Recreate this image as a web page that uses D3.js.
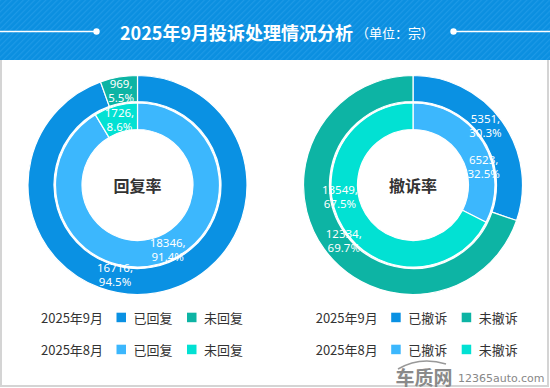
<!DOCTYPE html>
<html><head><meta charset="utf-8">
<script src="https://cdn.jsdelivr.net/npm/d3@7"></script>
<style>
html,body{margin:0;padding:0;background:#fff;}
svg{display:block;}
</style></head>
<body>
<svg id="chart" width="550" height="388"></svg>
<script>
// ---- data ----
const titleMain = "2025年9月投诉处理情况分析";
const titleUnit = "（单位：宗）";
const months = ["2025年9月", "2025年8月"];
const replyCategories = ["已回复", "未回复"];
const withdrawCategories = ["已撤诉", "未撤诉"];
const replySep = [16716, 969];      // 2025年9月
const replyAug = [18346, 1726];     // 2025年8月
const withdrawSep = [5351, 12334];  // 2025年9月
const withdrawAug = [6523, 13549];  // 2025年8月
const centerTitles = ["回复率", "撤诉率"];

// ---- styles / layout ----
const colSepDone = "#0a91e3", colSepNot = "#0db4a4";
const colAugDone = "#3cb7fd", colAugNot = "#02e1d3";
const W = 550, H = 388;
const svg = d3.select("#chart");
const cjk = "'Noto Sans CJK SC','Noto Sans',sans-serif";

// header
const defs = svg.append("defs");
const pat = defs.append("pattern").attr("id","stripes").attr("patternUnits","userSpaceOnUse")
  .attr("width",4).attr("height",4).attr("patternTransform","rotate(45)");
pat.append("rect").attr("width",4).attr("height",4).attr("fill","#0b8fe0");
pat.append("rect").attr("width",1.2).attr("height",4).attr("fill","#1d99e6");
svg.append("rect").attr("x",0).attr("y",0).attr("width",W).attr("height",60).attr("fill","url(#stripes)");

// body border
svg.append("path").attr("d",`M1,60 V386 H548 V60`).attr("fill","none").attr("stroke","#d4d4d4").attr("stroke-width",2);

const tY = 31.5;
svg.append("line").attr("x1",0).attr("x2",96.5).attr("y1",tY).attr("y2",tY).attr("stroke","#fff").attr("stroke-width",1.5);
svg.append("circle").attr("cx",96.5).attr("cy",tY).attr("r",3.2).attr("fill","#fff");
svg.append("line").attr("x1",453.5).attr("x2",W).attr("y1",tY).attr("y2",tY).attr("stroke","#fff").attr("stroke-width",1.5);
svg.append("circle").attr("cx",453.5).attr("cy",tY).attr("r",3.2).attr("fill","#fff");
const tt = svg.append("text").attr("x",277).attr("y",tY).attr("text-anchor","middle")
  .attr("dominant-baseline","central").attr("fill","#fff").style("font-family",cjk);
tt.append("tspan").attr("font-size",18).attr("font-weight","bold").text(titleMain);
tt.append("tspan").attr("font-size",13).attr("dx",3).text(titleUnit);

// donuts
const pie = d3.pie().sort(null).value(d => d).startAngle(0).endAngle(2*Math.PI);
const rings = {outer:[83.5,109.5], inner:[55.5,82]};

function donut(cx, cy, outerData, innerData, outerCols, innerCols, centerText, labelAdj) {
  const g = svg.append("g").attr("transform",`translate(${cx},${cy})`);
  const sets = [
    {data: outerData, cols: outerCols, r: rings.outer, adj: labelAdj.outer},
    {data: innerData, cols: innerCols, r: rings.inner, adj: labelAdj.inner}
  ];
  const arcLayer = g.append("g"), labelLayer = g.append("g");
  sets.forEach(s => {
    const arc = d3.arc().innerRadius(s.r[0]).outerRadius(s.r[1]);
    const total = d3.sum(s.data);
    const arcs = pie(s.data);
    arcLayer.append("g").selectAll("path").data(arcs).join("path")
      .attr("d", arc).attr("fill", (d,i) => s.cols[i])
      .attr("stroke","#fff").attr("stroke-width",1.2);
    labelLayer.append("g").selectAll("text").data(arcs).join("text")
      .each(function(d,i){
        const a = (d.startAngle + d.endAngle)/2 + s.adj[i][0]*Math.PI/180;
        const rr = s.adj[i][1];
        const x = rr*Math.sin(a), y = -rr*Math.cos(a);
        const t = d3.select(this).attr("text-anchor","middle").attr("fill","#fff")
          .style("font-family","'Noto Sans',sans-serif").attr("font-size",11.5);
        t.append("tspan").attr("x",x).attr("y",y-7).attr("dominant-baseline","central").text(d.data + ",");
        t.append("tspan").attr("x",x).attr("y",y+7).attr("dominant-baseline","central").text((d.data/total*100).toFixed(1) + "%");
      });
  });
  g.append("text").attr("text-anchor","middle").attr("dominant-baseline","central")
    .attr("fill","#333").attr("font-size",16).attr("font-weight","bold")
    .style("font-family",cjk).text(centerText);
}

// label placement: [angle offset in degrees, radius]
donut(137.5, 185, replySep, replyAug, [colSepDone,colSepNot], [colAugDone,colAugNot], centerTitles[0],
  {outer:[[24,92],[0,96]], inner:[[-9.5,71.5],[0,67.5]]});
donut(413, 185, withdrawSep, withdrawAug, [colSepDone,colSepNot], [colAugDone,colAugNot], centerTitles[1],
  {outer:[[-4,94],[-3,88.5]], inner:[[17,73],[22.5,74]]});

// legends
function legend(x0, cats) {
  const rowsY = [317.5, 349.5];
  const cols = [[colSepDone,colSepNot],[colAugDone,colAugNot]];
  months.forEach((m, r) => {
    const y = rowsY[r];
    const g = svg.append("g").style("font-family",cjk).attr("font-size",13).attr("fill","#333");
    g.append("text").attr("x",x0).attr("y",y).attr("dominant-baseline","central").text(m);
    cats.forEach((c, k) => {
      const sx = x0 + 75.5 + k*70.5;
      g.append("rect").attr("x",sx).attr("y",y-4.8).attr("width",9.5).attr("height",9.5).attr("fill",cols[r][k]);
      g.append("text").attr("x",sx+17).attr("y",y).attr("dominant-baseline","central").text(c);
    });
  });
}
legend(41, replyCategories);
legend(315.7, withdrawCategories);

// watermark
const wm = svg.append("g");
wm.append("path").attr("d","M398,369 Q420,356 446,364").attr("fill","none").attr("stroke","#999").attr("stroke-width",1.5);
wm.append("text").attr("x",424).attr("y",376).attr("text-anchor","middle").attr("dominant-baseline","central")
  .attr("font-size",19).attr("font-weight","bold").attr("fill","#8a8a8a").style("font-family",cjk).text("车质网");
wm.append("text").attr("x",458).attr("y",378.5).attr("dominant-baseline","central")
  .attr("font-size",11).attr("fill","#888").style("font-family","'DejaVu Sans',sans-serif").text("12365auto.com");
</script>
</body></html>
